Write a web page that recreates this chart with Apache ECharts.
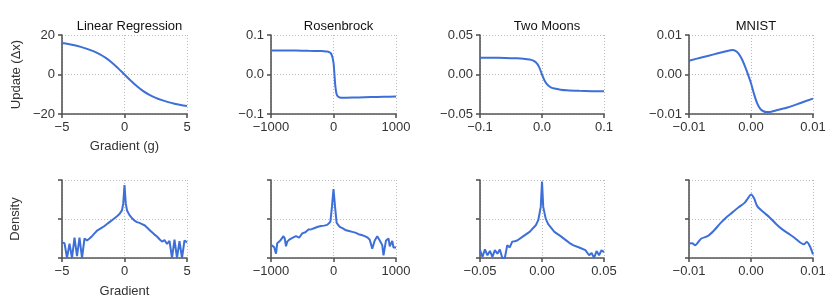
<!DOCTYPE html>
<html><head><meta charset="utf-8">
<script src="https://cdn.jsdelivr.net/npm/echarts@6.0.0/dist/echarts.min.js"></script>
<style>html,body{margin:0;padding:0;background:#fff}#c{width:831px;height:303px}</style>
</head><body><div id="c"></div>
<script>
// ---- Data ----
const titles = ['Linear Regression', 'Rosenbrock', 'Two Moons', 'MNIST'];

const lrX = [-5,-4.5,-4,-3.5,-3,-2.5,-2,-1.5,-1,-0.5,0,0.5,1,1.5,2,2.5,3,3.5,4,4.5,5];
const lrY = [15.9,15.4,14.8,14.0,13.0,11.8,10.3,8.4,6.0,3.1,0,-3.1,-6.0,-8.4,-10.3,-11.8,-13.0,-14.0,-14.8,-15.4,-15.9];

const rbX = [-1000,-800,-600,-400,-200,-150,-100,-75,-50,-25,0,15,30,50,75,100,150,200,400,600,800,1000];
const rbY = [0.061,0.061,0.0605,0.060,0.0595,0.059,0.058,0.057,0.055,0.048,0.030,0.0,-0.030,-0.050,-0.056,-0.058,-0.059,-0.0588,-0.058,-0.0572,-0.0566,-0.056];

const tmX = [-0.1,-0.08,-0.06,-0.04,-0.03,-0.02,-0.015,-0.01,-0.005,0,0.005,0.01,0.015,0.02,0.03,0.04,0.06,0.08,0.1];
const tmY = [0.0213,0.0212,0.0210,0.0205,0.0200,0.0190,0.0178,0.0155,0.0100,0.0,-0.0090,-0.0140,-0.0165,-0.0178,-0.0192,-0.0200,-0.0207,-0.0211,-0.0213];

const mnX = [-0.01,-0.008,-0.006,-0.005,-0.004,-0.0035,-0.003,-0.0025,-0.002,-0.0015,-0.001,-0.0005,0,0.0005,0.001,0.0015,0.002,0.0025,0.003,0.004,0.006,0.008,0.01];
const mnY = [0.0035,0.0043,0.0051,0.0055,0.0059,0.0061,0.0062,0.0060,0.0053,0.0040,0.0022,0.0001,-0.0022,-0.0050,-0.0073,-0.0087,-0.0093,-0.0095,-0.0095,-0.0091,-0.0083,-0.0072,-0.0061];

const dLrX = [-5,-4.8,-4.6,-4.4,-4.2,-4,-3.8,-3.6,-3.4,-3.2,-3,-2.8,-2.6,-2.4,-2.2,-2,-1.8,-1.6,-1.4,-1.2,-1,-0.8,-0.6,-0.4,-0.2,-0.1,0,0.1,0.2,0.4,0.6,0.8,1,1.2,1.4,1.6,1.8,2,2.2,2.4,2.6,2.8,3,3.2,3.4,3.6,3.8,4,4.2,4.4,4.6,4.8,5];
const dLrY = [0.40,0.38,0.0,0.37,0.0,0.52,0.05,0.52,0.0,0.50,0.45,0.50,0.56,0.63,0.70,0.74,0.78,0.82,0.87,0.92,0.97,1.02,1.07,1.13,1.22,1.40,1.87,1.40,1.22,1.10,1.02,0.96,0.92,0.90,0.87,0.84,0.78,0.72,0.66,0.60,0.55,0.48,0.42,0.46,0.36,0.44,0.0,0.47,0.0,0.43,0.0,0.45,0.40];

const dRbX = [-1000,-980,-950,-920,-900,-850,-800,-780,-760,-740,-700,-650,-600,-580,-550,-500,-450,-400,-350,-300,-250,-200,-150,-100,-50,-25,0,25,50,100,150,200,250,300,350,400,450,500,540,580,620,660,700,740,780,800,840,880,900,940,960,1000];
const dRbY = [0.34,0.34,0.28,0.11,0.38,0.45,0.56,0.50,0.30,0.42,0.48,0.52,0.56,0.58,0.52,0.63,0.66,0.73,0.74,0.77,0.80,0.82,0.83,0.85,0.93,1.31,1.77,1.31,0.90,0.80,0.76,0.71,0.69,0.67,0.65,0.61,0.59,0.56,0.53,0.47,0.24,0.45,0.56,0.45,0.33,0.07,0.45,0.50,0.30,0.44,0.27,0.27];

const dTmX = [-0.05,-0.048,-0.046,-0.044,-0.042,-0.04,-0.038,-0.036,-0.034,-0.032,-0.03,-0.028,-0.026,-0.024,-0.022,-0.02,-0.015,-0.01,-0.005,-0.003,-0.001,0,0.001,0.003,0.005,0.01,0.015,0.02,0.022,0.025,0.03,0.035,0.038,0.04,0.042,0.044,0.046,0.048,0.05];
const dTmY = [0.20,0.03,0.22,0.07,0.18,0.03,0.20,0.11,0.22,0.0,0.0,0.33,0.27,0.42,0.43,0.45,0.56,0.67,0.84,0.97,1.31,1.96,1.31,1.01,0.87,0.67,0.56,0.44,0.39,0.33,0.27,0.20,0.07,0.13,0.0,0.18,0.07,0.20,0.15];

const dMnX = [-0.01,-0.0095,-0.009,-0.0085,-0.008,-0.007,-0.006,-0.005,-0.004,-0.003,-0.002,-0.001,-0.0005,0,0.0005,0.001,0.002,0.003,0.004,0.005,0.006,0.007,0.008,0.0085,0.009,0.0095,0.01];
const dMnY = [0.37,0.38,0.33,0.41,0.50,0.56,0.70,0.88,1.04,1.17,1.30,1.42,1.53,1.63,1.53,1.33,1.18,1.04,0.88,0.74,0.63,0.52,0.39,0.35,0.41,0.30,0.09];

const topXTicks = [[-5,0,5],[-1000,0,1000],[-0.1,0,0.1],[-0.01,0,0.01]];
const topXLabels = [['−5','0','5'],['−1000','0','1000'],['−0.1','0.0','0.1'],['−0.01','0.00','0.01']];
const topYTicks = [[-20,0,20],[-0.1,0,0.1],[-0.05,0,0.05],[-0.01,0,0.01]];
const topYLabels = [['−20','0','20'],['−0.1','0.0','0.1'],['−0.05','0.00','0.05'],['−0.01','0.00','0.01']];
const botXTicks = [[-5,0,5],[-1000,0,1000],[-0.05,0,0.05],[-0.01,0,0.01]];
const botXLabels = [['−5','0','5'],['−1000','0','1000'],['−0.05','0.00','0.05'],['−0.01','0.00','0.01']];
const densTicks = [0,1,2];

const topSeries = [[lrX,lrY],[rbX,rbY],[tmX,tmY],[mnX,mnY]];
const botSeries = [[dLrX,dLrY],[dRbX,dRbY],[dTmX,dTmY],[dMnX,dMnY]];

// ---- Layout / style ----
const FONT = 'Liberation Sans, Arial, Helvetica, sans-serif';
const lefts = [62, 271, 480, 689];
const widths = [125, 125, 124, 124];
const TOP1 = 35, H1 = 79, TOP2 = 180, H2 = 78;
const LINE = '#3d6fd8';
const AX = '#555';

function labelFmt(ticks, labels) {
  return function (v) {
    let best = 0, bd = Infinity;
    ticks.forEach((t, i) => { const d = Math.abs(t - v); if (d < bd) { bd = d; best = i; } });
    return labels[best];
  };
}
function mkAxis(gi, ticks, labels, extra) {
  return Object.assign({
    type: 'value', gridIndex: gi,
    min: ticks[0], max: ticks[ticks.length - 1], interval: ticks[1] - ticks[0],
    axisLine: { show: true, onZero: false, lineStyle: { color: AX, width: 1.6 } },
    axisTick: { show: true, length: 4, lineStyle: { color: AX, width: 1.6 } },
    splitLine: { show: true, lineStyle: { color: '#bbb', type: [1, 2], width: 1 } },
    axisLabel: labels ? { show: true, fontSize: 13, color: '#333', fontFamily: FONT, margin: 7,
      formatter: labelFmt(ticks, labels), showMinLabel: true, showMaxLabel: true, hideOverlap: false } : { show: false },
    nameTextStyle: { fontSize: 13, color: '#333', fontFamily: FONT }
  }, extra || {});
}

const grid = [], xAxis = [], yAxis = [], series = [], title = [];
for (let i = 0; i < 4; i++) {
  grid.push({ left: lefts[i], top: TOP1, width: widths[i], height: H1 });
  grid.push({ left: lefts[i], top: TOP2, width: widths[i], height: H2 });
  const gTop = 2 * i, gBot = 2 * i + 1;
  xAxis.push(mkAxis(gTop, topXTicks[i], topXLabels[i], i === 0 ? { name: 'Gradient (g)', nameLocation: 'middle', nameGap: 26 } : {}));
  xAxis.push(mkAxis(gBot, botXTicks[i], botXLabels[i], i === 0 ? { name: 'Gradient', nameLocation: 'middle', nameGap: 27 } : {}));
  yAxis.push(mkAxis(gTop, topYTicks[i], topYLabels[i], i === 0 ? { name: 'Update (Δx)', nameLocation: 'middle', nameGap: 39 } : {}));
  yAxis.push(mkAxis(gBot, densTicks, null, i === 0 ? { name: 'Density', nameLocation: 'middle', nameGap: 40 } : {}));
  const ts = topSeries[i], bs = botSeries[i];
  series.push({ type: 'line', xAxisIndex: gTop, yAxisIndex: gTop, data: ts[0].map((x, k) => [x, ts[1][k]]),
    showSymbol: false, smooth: 0.3, lineStyle: { color: LINE, width: 2 }, itemStyle: { color: LINE } });
  series.push({ type: 'line', xAxisIndex: gBot, yAxisIndex: gBot, data: bs[0].map((x, k) => [x, bs[1][k]]),
    showSymbol: false, smooth: i === 3 ? 0.3 : false, lineStyle: { color: LINE, width: 2 }, itemStyle: { color: LINE } });
  title.push({ text: titles[i], left: lefts[i] + widths[i] / 2, top: 15, textAlign: 'center',
    textStyle: { fontSize: 13, fontWeight: 'normal', color: '#111', fontFamily: FONT } });
}

const chart = echarts.init(document.getElementById('c'), null, { renderer: 'canvas' });
chart.setOption({ animation: false, backgroundColor: '#fff', title, grid, xAxis, yAxis, series });
</script>
</body></html>
